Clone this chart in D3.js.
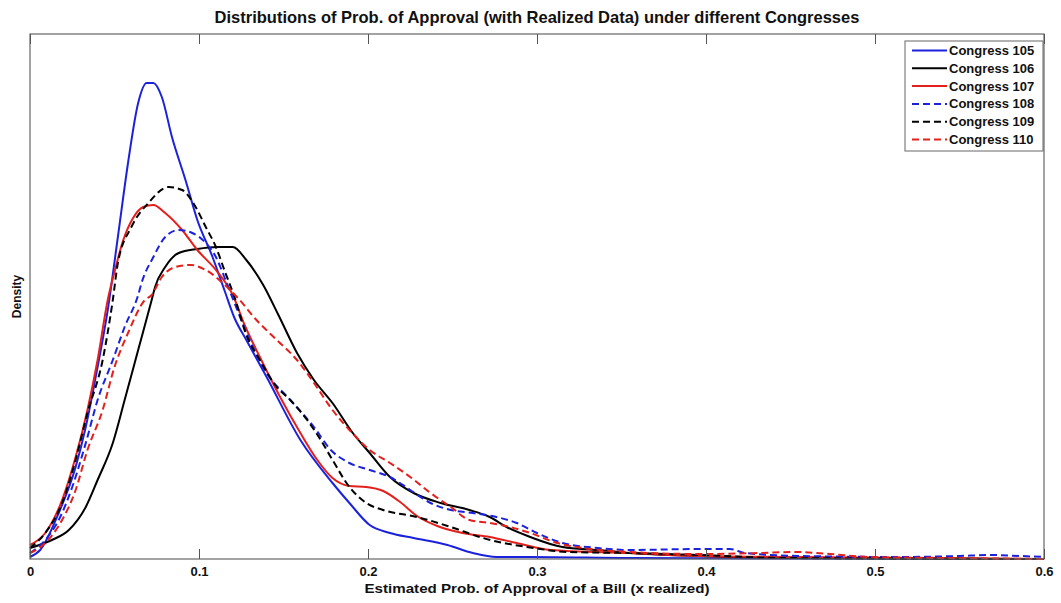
<!DOCTYPE html>
<html>
<head>
<meta charset="utf-8">
<script src="https://cdn.jsdelivr.net/npm/d3@7"></script>
<style>
  body { margin: 0; background: #fff; }
  text { font-family: "Liberation Sans", Arial, sans-serif; font-weight: bold; }
</style>
</head>
<body>
<div id="chart"></div>
<script>
// density curves: [x, density]
const congress105 = [[0,0.04],[0.006,0.18],[0.017,0.92],[0.027,1.84],[0.033,2.64],[0.04,3.84],[0.046,4.98],[0.052,6.44],[0.058,7.92],[0.064,9.12],[0.069,9.52],[0.073,9.52],[0.078,9.24],[0.084,8.44],[0.092,7.58],[0.099,6.78],[0.108,6.04],[0.115,5.38],[0.121,4.82],[0.128,4.38],[0.14,3.64],[0.16,2.38],[0.179,1.52],[0.189,1.12],[0.201,0.68],[0.213,0.52],[0.227,0.42],[0.247,0.28],[0.262,0.12],[0.276,0.04],[0.296,0.04],[0.355,0.02],[0.6,0]];
const congress106 = [[0,0.22],[0.013,0.38],[0.023,0.58],[0.033,1.04],[0.04,1.58],[0.049,2.32],[0.056,3.18],[0.064,4.18],[0.072,5.18],[0.074,5.44],[0.08,5.84],[0.088,6.12],[0.099,6.2],[0.111,6.24],[0.12,6.24],[0.128,5.98],[0.138,5.48],[0.147,4.88],[0.158,4.12],[0.168,3.58],[0.179,3.12],[0.191,2.52],[0.201,2.12],[0.213,1.64],[0.227,1.32],[0.243,1.12],[0.26,0.98],[0.272,0.84],[0.282,0.64],[0.296,0.44],[0.315,0.24],[0.336,0.18],[0.355,0.12],[0.396,0.06],[0.456,0.02],[0.6,0]];
const congress107 = [[0,0.28],[0.009,0.52],[0.019,1.18],[0.027,2.04],[0.034,2.98],[0.04,3.98],[0.046,5.18],[0.05,5.74],[0.055,6.36],[0.061,6.82],[0.067,7.04],[0.073,7.08],[0.08,6.92],[0.09,6.58],[0.099,6.18],[0.11,5.78],[0.12,5.28],[0.127,4.68],[0.136,4.04],[0.148,3.24],[0.16,2.52],[0.17,1.98],[0.179,1.62],[0.189,1.46],[0.199,1.44],[0.209,1.36],[0.219,1.14],[0.229,0.86],[0.241,0.66],[0.256,0.52],[0.272,0.44],[0.288,0.32],[0.308,0.18],[0.355,0.12],[0.396,0.06],[0.456,0.04],[0.6,0]];
const congress108 = [[0,0.12],[0.009,0.38],[0.017,0.78],[0.025,1.44],[0.033,2.32],[0.04,3.18],[0.049,3.98],[0.056,4.64],[0.064,5.28],[0.066,5.52],[0.073,6.04],[0.08,6.44],[0.088,6.58],[0.096,6.52],[0.104,6.32],[0.11,6.04],[0.115,5.64],[0.121,5.12],[0.13,4.38],[0.14,3.72],[0.154,3.18],[0.168,2.64],[0.178,2.18],[0.189,1.92],[0.201,1.78],[0.213,1.64],[0.225,1.38],[0.237,1.12],[0.249,0.98],[0.262,0.92],[0.276,0.84],[0.288,0.72],[0.3,0.52],[0.315,0.32],[0.336,0.22],[0.355,0.18],[0.396,0.2],[0.414,0.2],[0.423,0.12],[0.456,0.06],[0.515,0.04],[0.55,0.06],[0.568,0.08],[0.586,0.06],[0.6,0.04]];
const congress109 = [[0,0.22],[0.009,0.52],[0.019,1.12],[0.027,1.98],[0.034,2.92],[0.043,3.98],[0.049,5.18],[0.052,5.92],[0.06,6.64],[0.07,7.12],[0.082,7.44],[0.09,7.38],[0.098,7.04],[0.104,6.64],[0.11,6.24],[0.115,5.78],[0.121,5.24],[0.128,4.48],[0.136,3.98],[0.146,3.44],[0.154,3.18],[0.164,2.78],[0.172,2.38],[0.179,1.98],[0.189,1.44],[0.199,1.12],[0.209,0.98],[0.229,0.84],[0.249,0.64],[0.268,0.42],[0.298,0.22],[0.318,0.14],[0.355,0.12],[0.396,0.08],[0.444,0.02],[0.6,0]];
const congress110 = [[0,0.12],[0.009,0.32],[0.019,0.78],[0.027,1.38],[0.034,2.18],[0.043,2.98],[0.05,3.84],[0.058,4.52],[0.068,5.18],[0.072,5.28],[0.078,5.64],[0.086,5.84],[0.095,5.88],[0.104,5.78],[0.114,5.52],[0.123,5.22],[0.134,4.78],[0.146,4.38],[0.158,3.98],[0.168,3.52],[0.179,2.98],[0.189,2.58],[0.201,2.18],[0.213,1.92],[0.225,1.64],[0.237,1.32],[0.249,1.04],[0.26,0.78],[0.272,0.72],[0.284,0.64],[0.296,0.52],[0.312,0.32],[0.327,0.22],[0.355,0.14],[0.396,0.1],[0.432,0.12],[0.453,0.14],[0.473,0.1],[0.497,0.04],[0.544,0.02],[0.6,0]];

const seriesNames = ["Congress 105","Congress 106","Congress 107","Congress 108","Congress 109","Congress 110"];
const seriesData = [congress105, congress106, congress107, congress108, congress109, congress110];
const xTicks = [0, 0.1, 0.2, 0.3, 0.4, 0.5, 0.6];

const colors = ["#1c22dc", "#000000", "#e3201c", "#1c22dc", "#000000", "#e3201c"];
const dashed = [false, false, false, true, true, true];

let w = 1061, h = 603;
let m = { top: 34, right: 17, bottom: 44, left: 30 };
let gw = w - m.left - m.right, gh = h - m.top - m.bottom;

let svg = d3.select("#chart").append("svg").attr("width", w).attr("height", h);
let g = svg.append("g").attr("transform", `translate(${m.left},${m.top})`);

let x = d3.scaleLinear().domain([0, 0.6]).range([0, gw]);
let y = d3.scaleLinear().domain([0, 10.5]).range([gh, 0]);

// curves
let line = d3.line().x(d => x(d[0])).y(d => y(d[1])).curve(d3.curveMonotoneX);
seriesData.forEach((s, i) => {
    g.append("path").datum(s)
        .attr("d", line)
        .attr("fill", "none")
        .attr("stroke", colors[i])
        .attr("stroke-width", 2)
        .attr("stroke-dasharray", dashed[i] ? "7,4" : null);
});

// box + ticks
g.append("rect").attr("width", gw).attr("height", gh)
    .attr("fill", "none").attr("stroke", "#666").attr("stroke-width", 1.2);

let xAxis = g.append("g").attr("transform", `translate(0,${gh})`)
    .call(d3.axisBottom(x).tickValues(xTicks).tickFormat(d3.format("")).tickSizeInner(-10).tickSizeOuter(0));
xAxis.select(".domain").remove();
xAxis.selectAll("line").attr("stroke", "#555");
xAxis.selectAll("text").attr("y", 8).attr("dy", "0.71em")
    .style("font-size", "13px").style("font-family", "Liberation Sans, Arial").style("font-weight", "bold").attr("fill", "#111");

let xTop = g.append("g").call(d3.axisTop(x).tickValues(xTicks).tickFormat("").tickSizeInner(-10).tickSizeOuter(0));
xTop.select(".domain").remove();
xTop.selectAll("line").attr("stroke", "#555");

// labels
svg.append("text").attr("x", m.left + gw / 2).attr("y", 23)
    .attr("text-anchor", "middle").style("font-size", "16.5px").attr("fill", "#111")
    .text("Distributions of Prob. of Approval (with Realized Data) under different Congresses");

svg.append("text").attr("x", m.left + gw / 2).attr("y", 593)
    .attr("text-anchor", "middle").style("font-size", "13px").attr("fill", "#111")
    .attr("textLength", 345).attr("lengthAdjust", "spacingAndGlyphs")
    .text("Estimated Prob. of Approval of a Bill (x realized)");

svg.append("text").attr("transform", `translate(21,${m.top + gh / 2}) rotate(-90)`)
    .attr("text-anchor", "middle").style("font-size", "12px").attr("fill", "#111")
    .text("Density");

// legend
let lg = svg.append("g").attr("transform", "translate(905,41)");
lg.append("rect").attr("width", 138).attr("height", 110)
    .attr("fill", "#fff").attr("stroke", "#666").attr("stroke-width", 1);
seriesNames.forEach((n, i) => {
    let row = lg.append("g").attr("transform", `translate(0,${9.5 + i * 17.8})`);
    row.append("line").attr("x1", 7).attr("x2", 42).attr("y1", 0).attr("y2", 0)
        .attr("stroke", colors[i]).attr("stroke-width", 2)
        .attr("stroke-dasharray", dashed[i] ? "7,4" : null);
    row.append("text").attr("x", 44).attr("y", 4.5)
        .style("font-size", "13px").attr("fill", "#111").text(n);
});
</script>
</body>
</html>
